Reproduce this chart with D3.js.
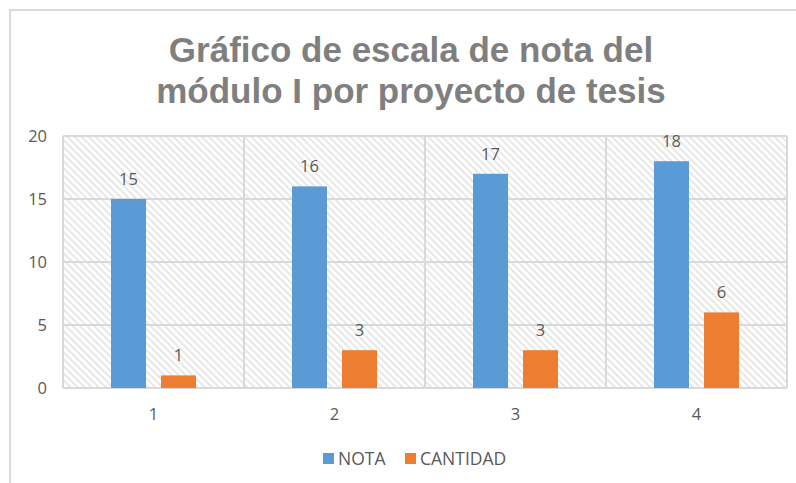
<!DOCTYPE html>
<html>
<head>
<meta charset="utf-8">
<script src="https://cdn.jsdelivr.net/npm/d3@7"></script>
<style>
  html, body { margin: 0; padding: 0; background: #fff; }
  svg { display: block; }
</style>
</head>
<body>
<div id="chart"></div>
<script>
const categories = ['1', '2', '3', '4'];
const seriesNames = ['NOTA', 'CANTIDAD'];
const nota = [15, 16, 17, 18];
const cantidad = [1, 3, 3, 6];
const yTicks = [0, 5, 10, 15, 20];
const titleLines = ['Gráfico de escala de nota del', 'módulo I por proyecto de tesis'];

const w = 796, h = 483;
const m = { t: 136, r: 9, b: 95, l: 63 };
const colors = { NOTA: '#5b9bd5', CANTIDAD: '#ed7d31' };
const txt = '#595959';
const font = '"Open Sans", "Liberation Sans", sans-serif';

const svg = d3.select('#chart').append('svg').attr('width', w).attr('height', h);

const defs = svg.append('defs');
const pat = defs.append('pattern')
  .attr('id', 'hatch')
  .attr('patternUnits', 'userSpaceOnUse')
  .attr('width', 5).attr('height', 5)
  .attr('patternTransform', 'rotate(-45)');
pat.append('rect').attr('width', 5).attr('height', 5).attr('fill', '#fff');
pat.append('line').attr('x1', 1).attr('y1', 0).attr('x2', 1).attr('y2', 5)
  .attr('stroke', '#e2e2e2').attr('stroke-width', 1.6);

// chart frame
svg.append('path')
  .attr('d', `M10,${h + 2} V10 H${w + 2}`)
  .attr('fill', 'none').attr('stroke', '#d9d9d9').attr('stroke-width', 2);

// title
svg.append('g').selectAll('text').data(titleLines).enter().append('text')
  .attr('x', 411).attr('y', (d, i) => 62 + i * 41)
  .attr('text-anchor', 'middle')
  .attr('font-family', '"Liberation Sans", Arial, sans-serif')
  .attr('font-weight', 'bold').attr('font-size', 35)
  .attr('fill', '#7f7f7f')
  .text(d => d);

const x0 = d3.scaleBand().domain(categories).range([m.l, w - m.r]).padding(0);
const x1 = d3.scaleBand().domain(seriesNames).range([48, x0.bandwidth() - 48]).paddingInner(0.3);
const y = d3.scaleLinear().domain([0, 20]).range([h - m.b, m.t]);

// hatched plot area
svg.append('rect')
  .attr('x', m.l).attr('y', m.t)
  .attr('width', x0.range()[1] - m.l).attr('height', y(0) - m.t)
  .attr('fill', 'url(#hatch)');

// grid
const grid = svg.append('g').attr('stroke', '#d9d9d9').attr('stroke-width', 2);
grid.selectAll('line.h').data(yTicks).enter().append('line')
  .attr('x1', m.l).attr('x2', x0.range()[1])
  .attr('y1', d => y(d)).attr('y2', d => y(d));
const bounds = categories.map(c => x0(c)).concat([x0.range()[1]]);
grid.selectAll('line.v').data(bounds).enter().append('line')
  .attr('x1', d => d).attr('x2', d => d)
  .attr('y1', y(20)).attr('y2', y(0));

// axes labels
svg.append('g').selectAll('text').data(yTicks).enter().append('text')
  .attr('x', 47).attr('y', d => y(d) + 6)
  .attr('text-anchor', 'end')
  .attr('font-family', font).attr('font-size', 16.5).attr('fill', txt)
  .text(d => d);
svg.append('g').selectAll('text').data(categories).enter().append('text')
  .attr('x', d => x0(d) + x0.bandwidth() / 2).attr('y', 420)
  .attr('text-anchor', 'middle')
  .attr('font-family', font).attr('font-size', 16.5).attr('fill', txt)
  .text(d => d);

// bars
const rows = categories.map((c, i) => ({ cat: c, NOTA: nota[i], CANTIDAD: cantidad[i] }));
const grp = svg.append('g').selectAll('g').data(rows).enter().append('g')
  .attr('transform', d => `translate(${x0(d.cat)},0)`);
grp.selectAll('rect').data(d => seriesNames.map(s => ({ s, v: d[s] }))).enter().append('rect')
  .attr('x', d => x1(d.s)).attr('width', x1.bandwidth())
  .attr('y', d => y(d.v)).attr('height', d => y(0) - y(d.v))
  .attr('fill', d => colors[d.s]);
grp.selectAll('text').data(d => seriesNames.map(s => ({ s, v: d[s] }))).enter().append('text')
  .attr('x', d => x1(d.s) + x1.bandwidth() / 2).attr('y', d => y(d.v) - 14)
  .attr('text-anchor', 'middle')
  .attr('font-family', font).attr('font-size', 16.5).attr('fill', txt)
  .text(d => d.v);

// legend
const legX = { NOTA: 323, CANTIDAD: 405 };
const leg = svg.append('g').selectAll('g').data(seriesNames).enter().append('g')
  .attr('transform', d => `translate(${legX[d]},453)`);
leg.append('rect').attr('width', 11).attr('height', 11).attr('fill', d => colors[d]);
leg.append('text').attr('x', 15).attr('y', 11.5)
  .attr('font-family', font).attr('font-size', 17.5).attr('fill', txt)
  .text(d => d);
</script>
</body>
</html>
